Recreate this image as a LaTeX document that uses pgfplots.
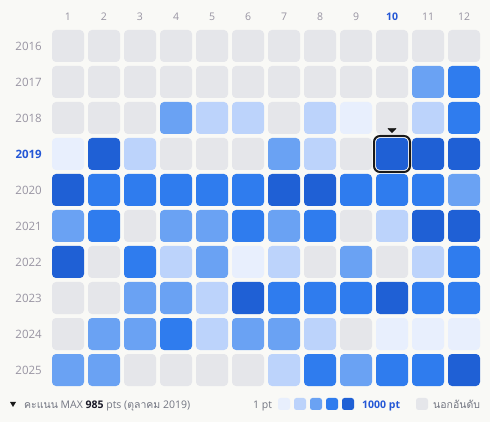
\documentclass[border=0pt]{standalone}
\usepackage{pgfplots}
\pgfplotsset{compat=1.18}
\usepackage{pgfplotstable}
\usepackage{fontspec}
\setmainfont{Open Sans}
\newfontfamily\thaifont[Script=Thai]{Loma}
\definecolor{bg}{RGB}{249,249,246}
\definecolor{c0}{RGB}{229,230,234}
\definecolor{c1}{RGB}{232,239,253}
\definecolor{c2}{RGB}{188,211,251}
\definecolor{c3}{RGB}{106,162,243}
\definecolor{c4}{RGB}{47,124,238}
\definecolor{c5}{RGB}{31,96,213}
\definecolor{lab}{RGB}{152,148,162}
\definecolor{leg}{RGB}{115,118,130}
\definecolor{hl}{RGB}{36,87,214}
\definecolor{dark}{RGB}{26,26,40}

\pgfdeclareplotmark{rsq}{%
  \pgfsetcornersarced{\pgfpoint{4pt}{4pt}}%
  \pgfpathmoveto{\pgfqpoint{0pt}{-\pgfplotmarksize}}%
  \pgfpathlineto{\pgfqpoint{\pgfplotmarksize}{-\pgfplotmarksize}}%
  \pgfpathlineto{\pgfqpoint{\pgfplotmarksize}{\pgfplotmarksize}}%
  \pgfpathlineto{\pgfqpoint{-\pgfplotmarksize}{\pgfplotmarksize}}%
  \pgfpathlineto{\pgfqpoint{-\pgfplotmarksize}{-\pgfplotmarksize}}%
  \pgfpathclose
  \pgfusepath{fill}}
\pgfdeclareplotmark{rsqo}{%
  \pgfsetcornersarced{\pgfpoint{6pt}{6pt}}%
  \pgfpathmoveto{\pgfqpoint{0pt}{-\pgfplotmarksize}}%
  \pgfpathlineto{\pgfqpoint{\pgfplotmarksize}{-\pgfplotmarksize}}%
  \pgfpathlineto{\pgfqpoint{\pgfplotmarksize}{\pgfplotmarksize}}%
  \pgfpathlineto{\pgfqpoint{-\pgfplotmarksize}{\pgfplotmarksize}}%
  \pgfpathlineto{\pgfqpoint{-\pgfplotmarksize}{-\pgfplotmarksize}}%
  \pgfpathclose
  \pgfusepath{stroke}}

% x = month, y = row (1 = 2016 ... 10 = 2025), c = level (0 = not ranked, 1..5 = 1 pt .. 1000 pt)
\pgfplotstableread[row sep=\\]{
x y c\\
1 1 0\\ 2 1 0\\ 3 1 0\\ 4 1 0\\ 5 1 0\\ 6 1 0\\ 7 1 0\\ 8 1 0\\ 9 1 0\\ 10 1 0\\ 11 1 0\\ 12 1 0\\
1 2 0\\ 2 2 0\\ 3 2 0\\ 4 2 0\\ 5 2 0\\ 6 2 0\\ 7 2 0\\ 8 2 0\\ 9 2 0\\ 10 2 0\\ 11 2 3\\ 12 2 4\\
1 3 0\\ 2 3 0\\ 3 3 0\\ 4 3 3\\ 5 3 2\\ 6 3 2\\ 7 3 0\\ 8 3 2\\ 9 3 1\\ 10 3 0\\ 11 3 2\\ 12 3 4\\
1 4 1\\ 2 4 5\\ 3 4 2\\ 4 4 0\\ 5 4 0\\ 6 4 0\\ 7 4 3\\ 8 4 2\\ 9 4 0\\ 10 4 5\\ 11 4 5\\ 12 4 5\\
1 5 5\\ 2 5 4\\ 3 5 4\\ 4 5 4\\ 5 5 4\\ 6 5 4\\ 7 5 5\\ 8 5 5\\ 9 5 4\\ 10 5 4\\ 11 5 4\\ 12 5 3\\
1 6 3\\ 2 6 4\\ 3 6 0\\ 4 6 3\\ 5 6 3\\ 6 6 4\\ 7 6 3\\ 8 6 4\\ 9 6 0\\ 10 6 2\\ 11 6 5\\ 12 6 5\\
1 7 5\\ 2 7 0\\ 3 7 4\\ 4 7 2\\ 5 7 3\\ 6 7 1\\ 7 7 2\\ 8 7 0\\ 9 7 3\\ 10 7 0\\ 11 7 2\\ 12 7 4\\
1 8 0\\ 2 8 0\\ 3 8 3\\ 4 8 3\\ 5 8 2\\ 6 8 5\\ 7 8 4\\ 8 8 4\\ 9 8 4\\ 10 8 5\\ 11 8 4\\ 12 8 4\\
1 9 0\\ 2 9 3\\ 3 9 3\\ 4 9 4\\ 5 9 2\\ 6 9 3\\ 7 9 3\\ 8 9 2\\ 9 9 0\\ 10 9 1\\ 11 9 1\\ 12 9 1\\
1 10 3\\ 2 10 3\\ 3 10 0\\ 4 10 0\\ 5 10 0\\ 6 10 0\\ 7 10 2\\ 8 10 4\\ 9 10 3\\ 10 10 4\\ 11 10 4\\ 12 10 5\\
}\grid

\begin{document}
\begin{tikzpicture}
\fill[bg] (0,0) rectangle (490pt,422pt);
\begin{axis}[
  at={(50pt,34pt)}, anchor=south west,
  scale only axis, width=432pt, height=360pt,
  xmin=0.5, xmax=12.5, ymin=0.5, ymax=10.5, y dir=reverse,
  axis line style={draw=none}, tick style={draw=none}, major tick length=0pt,
  xtick={1,...,12},
  xticklabels={1,2,3,4,5,6,7,8,9,{\bfseries\color{hl}10},11,12},
  ytick={1,...,10},
  yticklabels={2016,2017,2018,{\bfseries\color{hl}2019},2020,2021,2022,2023,2024,2025},
  xticklabel pos=right,
  /pgf/number format/assume math mode=true,
  xticklabel style={font=\fontsize{10.5}{12}\selectfont, text=lab, inner sep=0pt, yshift=7.5pt},
  yticklabel style={font=\fontsize{11.5}{12}\selectfont, text=lab, inner sep=0pt, xshift=-8pt},
  clip=false,
]
\addplot[scatter, only marks, mark=rsq, mark size=16pt,
  scatter src=explicit symbolic,
  scatter/classes={0={c0},1={c1},2={c2},3={c3},4={c4},5={c5}}]
  table[x=x, y=y, meta=c] {\grid};
\addplot[only marks, mark=rsqo, mark size=18pt, mark options={draw=black!90, line width=2pt}]
  coordinates {(10,4)};
\addplot[only marks, mark=triangle*, mark size=4.6pt,
  mark options={fill=black!90, draw=none, rotate=180, yscale=0.6}]
  coordinates {(10,3.33)};
\end{axis}
% legend
\fill[black!90] (10pt,20pt) -- (16pt,20pt) -- (13pt,15pt) -- cycle;
\node[anchor=base west, inner sep=0pt, text=leg, font=\fontsize{10.5}{12}\selectfont] at (24pt,13pt)
  {{\thaifont คะแนน} MAX \textbf{\color{dark}985} pts ({\thaifont ตุลาคม} 2019)};
\node[anchor=base west, inner sep=0pt, text=leg, font=\fontsize{10.5}{12}\selectfont] at (253pt,13pt) {1 pt};
\fill[c1, rounded corners=2.5pt] (278pt,12pt) rectangle (290pt,24pt);
\fill[c2, rounded corners=2.5pt] (294pt,12pt) rectangle (306pt,24pt);
\fill[c3, rounded corners=2.5pt] (310pt,12pt) rectangle (322pt,24pt);
\fill[c4, rounded corners=2.5pt] (326pt,12pt) rectangle (338pt,24pt);
\fill[c5, rounded corners=2.5pt] (342pt,12pt) rectangle (354pt,24pt);
\node[anchor=base west, inner sep=0pt, text=hl, font=\fontsize{10.5}{12}\selectfont\bfseries] at (362pt,13pt) {1000 pt};
\fill[c0, rounded corners=2.5pt] (416pt,12pt) rectangle (428pt,24pt);
\node[anchor=base west, inner sep=0pt, text=leg, font=\fontsize{10.5}{12}\selectfont] at (433pt,13pt) {\thaifont นอกอันดับ};
\pgfresetboundingbox
\path (0,0) rectangle (490pt,422pt);
\end{tikzpicture}
\end{document}
